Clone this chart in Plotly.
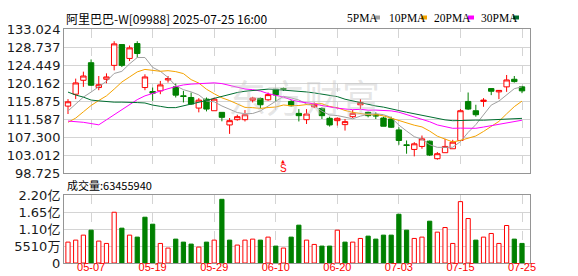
import plotly.graph_objects as go

# ---------------- data ----------------
dates = ["04-30", "05-02", "05-06", "05-07", "05-08", "05-09", "05-12", "05-13", "05-14", "05-15",
         "05-16", "05-19", "05-20", "05-21", "05-22", "05-23", "05-26", "05-27", "05-28", "05-29",
         "05-30", "06-02", "06-03", "06-04", "06-05", "06-06", "06-09", "06-10", "06-11", "06-12",
         "06-13", "06-16", "06-17", "06-18", "06-19", "06-20", "06-23", "06-24", "06-25", "06-26",
         "06-27", "06-30", "07-02", "07-03", "07-04", "07-07", "07-08", "07-09", "07-10", "07-11",
         "07-14", "07-15", "07-16", "07-17", "07-18", "07-21", "07-22", "07-23", "07-24", "07-25"]

open_ = [114.66, 117.50, 120.81, 124.99, 119.08, 121.05, 124.36, 129.32, 126.01, 129.56,
         119.08, 118.13, 118.29, 120.89, 119.24, 117.11, 116.71, 114.19, 116.32, 113.56,
         113.17, 110.17, 111.43, 111.43, 116.08, 116.48, 116.16, 118.68, 118.84, 115.77,
         112.93, 111.43, 114.50, 114.11, 111.75, 111.19, 110.25, 112.14, 114.98, 113.17,
         112.61, 111.82, 111.59, 108.99, 105.44, 104.34, 105.05, 106.31, 102.13, 103.56,
         104.50, 106.47, 115.77, 113.56, 115.77, 118.84, 118.05, 119.24, 121.05, 119.24]
high = [116.32, 121.20, 122.86, 125.77, 121.83, 122.46, 130.11, 129.40, 129.08, 130.11,
        122.23, 119.08, 120.65, 121.83, 120.02, 118.29, 117.90, 116.56, 116.71, 116.71,
        113.17, 111.82, 112.61, 113.72, 116.87, 116.71, 117.90, 118.68, 119.08, 116.08,
        113.95, 113.95, 115.53, 114.35, 112.14, 111.98, 111.59, 113.72, 116.32, 113.32,
        113.17, 112.14, 112.14, 109.62, 106.47, 106.07, 107.65, 106.47, 103.71, 106.86,
        106.63, 113.95, 117.90, 114.98, 116.56, 118.84, 118.45, 122.07, 121.83, 119.47]
low = [112.77, 116.32, 119.24, 119.47, 118.45, 120.10, 123.17, 123.96, 125.38, 126.17,
       118.45, 115.92, 117.50, 120.26, 116.71, 115.53, 114.98, 113.17, 113.40, 113.56,
       111.04, 108.04, 111.19, 111.00, 115.53, 114.11, 115.92, 115.77, 118.29, 114.58,
       111.00, 110.40, 114.19, 111.59, 109.78, 110.01, 108.83, 111.82, 113.95, 111.98,
       111.59, 109.86, 109.46, 105.44, 103.32, 102.69, 104.50, 102.77, 101.90, 103.56,
       104.50, 106.47, 113.72, 112.14, 114.50, 117.27, 116.32, 118.05, 120.26, 117.74]
close = [115.69, 120.18, 121.83, 119.63, 119.75, 121.60, 129.48, 124.36, 128.53, 127.19,
         121.60, 117.74, 119.71, 121.20, 117.27, 116.95, 115.14, 116.08, 113.95, 116.32,
         111.98, 111.19, 112.14, 112.61, 116.56, 114.98, 117.40, 117.30, 118.68, 114.74,
         112.38, 112.77, 114.98, 112.38, 110.17, 111.75, 110.96, 112.93, 115.53, 112.38,
         112.30, 109.86, 109.62, 106.47, 105.29, 105.68, 106.86, 103.00, 103.32, 105.05,
         106.07, 113.56, 113.95, 112.61, 116.08, 118.20, 118.40, 120.89, 120.50, 118.29]

ma5 = [113.5, 115.2, 116.8, 118.0, 119.39, 120.57, 122.43, 122.94, 124.72, 126.23,
       126.23, 123.88, 122.95, 121.49, 119.50, 118.57, 118.05, 117.33, 115.88, 115.69,
       114.69, 113.90, 113.12, 112.85, 112.90, 113.50, 114.73, 115.77, 116.98, 116.62,
       116.10, 115.18, 114.71, 113.45, 112.54, 112.41, 112.05, 111.64, 112.27, 112.71,
       112.84, 112.62, 111.95, 110.14, 108.72, 107.38, 106.78, 105.46, 104.83, 104.78,
       104.86, 106.20, 108.39, 110.25, 112.45, 114.90, 115.84, 117.23, 118.81, 119.25]
ma10 = [110.8, 111.8, 113.3, 114.8, 116.0, 117.1, 118.7, 120.4, 121.6, 122.81,
        123.40, 123.16, 122.95, 123.10, 122.87, 122.40, 120.97, 120.14, 118.68, 117.60,
        116.63, 115.98, 115.22, 114.36, 114.29, 114.10, 114.32, 114.44, 114.92, 114.76,
        114.80, 114.96, 115.24, 115.22, 114.58, 114.26, 113.62, 113.17, 112.86, 112.62,
        112.62, 112.33, 111.80, 111.21, 110.72, 110.11, 109.70, 108.71, 107.49, 106.75,
        106.12, 106.49, 106.93, 107.54, 108.62, 109.88, 111.02, 112.81, 114.53, 115.85]
ma20 = [111.1, 111.0, 110.8, 110.5, 110.2, 111.4, 112.6, 114.0, 115.2, 116.2,
        117.1, 117.7, 118.3, 118.8, 119.3, 119.7, 119.9, 120.0, 120.1, 120.20,
        120.02, 119.57, 119.08, 118.73, 118.58, 118.25, 117.64, 117.29, 116.80, 116.18,
        115.72, 115.47, 115.23, 114.79, 114.44, 114.18, 113.97, 113.81, 113.89, 113.69,
        113.71, 113.64, 113.52, 113.21, 112.65, 112.18, 111.66, 110.94, 110.17, 109.69,
        109.37, 109.41, 109.36, 109.37, 109.67, 110.00, 110.36, 110.76, 111.01, 111.30]
ma30 = [118.0, 117.3, 116.8, 116.1, 115.9, 115.7, 115.6, 115.6, 115.6, 115.5,
        115.4, 114.9, 114.6, 114.3, 114.3, 114.7, 115.2, 115.6, 116.0, 116.5,
        117.0, 117.5, 117.9, 118.2, 118.4, 118.6, 118.7, 118.6, 118.5, 118.39,
        118.28, 118.03, 117.80, 117.56, 117.25, 116.92, 116.30, 115.92, 115.49, 114.99,
        114.69, 114.42, 114.09, 113.60, 113.20, 112.82, 112.54, 112.11, 111.75, 111.38,
        111.18, 111.26, 111.32, 111.32, 111.30, 111.41, 111.45, 111.56, 111.62, 111.74]

volume = [67.7e6, 74.2e6, 90.3e6, 106.4e6, 71.0e6, 63.4e6, 164.5e6, 112.9e6, 90.3e6, 83.9e6,
          148.4e6, 125.8e6, 63.4e6, 48.4e6, 77.4e6, 67.7e6, 61.3e6, 51.6e6, 67.7e6, 74.2e6,
          206.4e6, 74.2e6, 58.1e6, 74.2e6, 77.4e6, 74.2e6, 83.9e6, 54.8e6, 48.4e6, 83.9e6,
          122.6e6, 74.2e6, 60.2e6, 54.8e6, 54.8e6, 106.4e6, 67.7e6, 67.7e6, 79.6e6, 87.1e6,
          77.4e6, 90.3e6, 90.3e6, 158.0e6, 106.4e6, 79.6e6, 83.9e6, 135.5e6, 100.0e6, 115.0e6,
          63.4e6, 198.9e6, 144.1e6, 74.2e6, 83.9e6, 95.7e6, 63.4e6, 121.5e6, 77.4e6, 63455940]

price_ticks = [98.725, 103.012, 107.300, 111.587, 115.875, 120.162, 124.449, 128.737, 133.024]
price_tick_text = ["98.725", "103.012", "107.300", "111.587", "115.875", "120.162", "124.449", "128.737", "133.024"]
vol_ticks = [0, 55.1e6, 110.2e6, 165.3e6, 220.4e6]
vol_tick_text = ["0", "5510万", "1.10亿", "1.65亿", "2.20亿"]
date_ticks = ["05-07", "05-19", "05-29", "06-10", "06-20", "07-03", "07-15", "07-25"]

title_text = "阿里巴巴-W[09988] 2025-07-25 16:00"
vol_title = "成交量:63455940"
ma_names = ["5PMA", "10PMA", "20PMA", "30PMA"]
ma_colors = ["#a0a0a0", "#f5a300", "#ff00ff", "#006e30"]
event_dates = ["06-11"]
event_labels = ["S"]

# ---------------- figure ----------------
W, H = 578, 276
X0, X1 = 56, 522
MAIN_T, MAIN_B = 21, 165
VOL_T, VOL_B = 187, 255


def px_x(p):
    return p / W


def px_y(p):
    return (H - p) / H


UP = "#ff0000"
DOWN = "#008000"

fig = go.Figure()
fig.add_trace(go.Candlestick(
    x=dates, open=open_, high=high, low=low, close=close,
    increasing=dict(line=dict(color=UP, width=1), fillcolor="#ffffff"),
    decreasing=dict(line=dict(color=DOWN, width=1), fillcolor=DOWN),
    whiskerwidth=0, showlegend=False, hoverinfo="skip", xaxis="x", yaxis="y"))

for vals, name, col in zip([ma5, ma10, ma20, ma30], ma_names, ma_colors):
    fig.add_trace(go.Scatter(x=dates, y=vals, mode="lines", name=name,
                             line=dict(color=col, width=1), showlegend=False,
                             hoverinfo="skip", xaxis="x", yaxis="y"))

vol_fill, vol_line = [], []
for i in range(len(close)):
    up = close[i] >= open_[i] if i == 0 else close[i] > close[i - 1]
    vol_fill.append("#ffffff" if up else DOWN)
    vol_line.append(UP if up else DOWN)

fig.add_trace(go.Bar(x=dates, y=volume, width=0.55,
                     marker=dict(color=vol_fill, line=dict(color=vol_line, width=1)),
                     showlegend=False, hoverinfo="skip", xaxis="x2", yaxis="y2"))

grid_c = "#d4d4d4"
border_c = "#959595"
lab_font = dict(family="DejaVu Sans, Noto Sans CJK SC", size=13, color="#1a1a1a")

xcommon = dict(type="category", categoryorder="array", categoryarray=dates,
               range=[-0.52, 60.04], tickvals=date_ticks, showgrid=True,
               gridcolor=grid_c, griddash="dash", gridwidth=1, showline=True,
               mirror=True, linecolor=border_c, linewidth=1, ticks="",
               zeroline=False, automargin=False, fixedrange=True)

fig.update_layout(
    width=W, height=H, autosize=False,
    margin=dict(l=0, r=0, t=0, b=0, pad=0),
    paper_bgcolor="#ffffff", plot_bgcolor="#ffffff",
    showlegend=False, hovermode=False,
    boxgap=0.3, boxgroupgap=0.0,
    xaxis=dict(domain=[px_x(X0), px_x(X1)], anchor="y", showticklabels=False,
               rangeslider=dict(visible=False), **xcommon),
    yaxis=dict(domain=[px_y(MAIN_B), px_y(MAIN_T)], anchor="x",
               range=[price_ticks[0], price_ticks[-1]], tickvals=price_ticks,
               ticktext=price_tick_text, showgrid=True, gridcolor=grid_c,
               showline=True, mirror=True, linecolor=border_c, ticks="",
               zeroline=False, tickfont=lab_font, automargin=False, fixedrange=True),
    xaxis2=dict(domain=[px_x(X0), px_x(X1)], anchor="y2", ticktext=date_ticks,
                tickfont=dict(family="Liberation Sans", size=11, color="#ff0000"),
                ticklabelstandoff=-6, **xcommon),
    yaxis2=dict(domain=[px_y(VOL_B), px_y(VOL_T)], anchor="x2",
                range=[vol_ticks[0], vol_ticks[-1]], tickvals=vol_ticks,
                ticktext=vol_tick_text, showgrid=True, gridcolor=grid_c,
                showline=True, mirror=True, linecolor=border_c, ticks="",
                zeroline=False, tickfont=lab_font, automargin=False, fixedrange=True),
)

ann = []
# watermark
ann.append(dict(x=px_x(296), y=px_y(88), xref="paper", yref="paper", text="东方财富",
                showarrow=False, font=dict(family="Noto Sans CJK SC", size=38, color="rgba(195,195,195,0.42)"),
                xanchor="center", yanchor="middle"))
# title
ann.append(dict(x=px_x(56), y=px_y(10), xref="paper", yref="paper", text=title_text,
                showarrow=False, font=dict(family="Noto Sans CJK SC", size=12, color="#000000"),
                xanchor="left", yanchor="middle"))
# volume title
ann.append(dict(x=px_x(57), y=px_y(176.5), xref="paper", yref="paper", text=vol_title,
                showarrow=False, font=dict(family="Noto Sans CJK SC", size=11, color="#000000"),
                xanchor="left", yanchor="middle"))

# MA legend
leg_text_x = [337, 379, 424, 471]
leg_sq_x = [366, 413, 460, 505]
shapes = []
for name, col, tx, sx in zip(ma_names, ma_colors, leg_text_x, leg_sq_x):
    ann.append(dict(x=px_x(tx), y=px_y(9.5), xref="paper", yref="paper", text=name,
                    showarrow=False, font=dict(family="Liberation Serif", size=11.5, color="#000000"),
                    xanchor="left", yanchor="middle"))
    shapes.append(dict(type="rect", xref="paper", yref="paper",
                       x0=px_x(sx), x1=px_x(sx + 6), y0=px_y(11.5), y1=px_y(7.5),
                       fillcolor=col, line=dict(width=0)))

# event markers
for d, lab in zip(event_dates, event_labels):
    ann.append(dict(x=d, y=px_y(160.5), xref="x", yref="paper", text=lab, showarrow=False,
                    font=dict(family="Liberation Sans", size=10, color="#ff0000"),
                    xanchor="center", yanchor="middle", borderpad=0))
    ann.append(dict(x=d, y=px_y(153), xref="x", yref="paper", text="▲", showarrow=False,
                    font=dict(family="DejaVu Sans", size=5, color="#ff0000"),
                    xanchor="center", yanchor="middle", borderpad=0))

fig.update_layout(annotations=ann, shapes=shapes)

fig.write_html("out.html", config={"displayModeBar": False})
